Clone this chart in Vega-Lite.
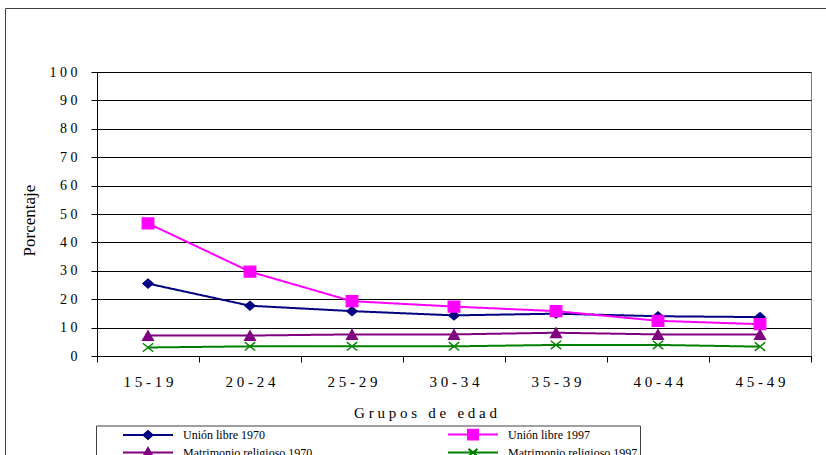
{
  "$schema": "https://vega.github.io/schema/vega-lite/v6.json",
  "width": 714,
  "height": 284,
  "autosize": {"type": "none"},
  "padding": {"left": 97, "top": 72, "right": 15, "bottom": 99},
  "background": "white",
  "config": {
    "font": "Liberation Serif",
    "view": {"stroke": "#808080", "strokeWidth": 1},
    "axis": {
      "labelFont": "Liberation Serif",
      "titleFont": "Liberation Serif",
      "labelColor": "black",
      "titleColor": "black",
      "titleFontWeight": "normal",
      "domainColor": "black",
      "tickColor": "black",
      "tickSize": 6
    },
    "legend": {
      "labelFont": "Liberation Serif",
      "labelColor": "black"
    }
  },
  "data": {
    "values": [
      {"grupo": "15-19", "serie": "Unión libre 1970", "pct": 25.5},
      {"grupo": "20-24", "serie": "Unión libre 1970", "pct": 17.7},
      {"grupo": "25-29", "serie": "Unión libre 1970", "pct": 15.8},
      {"grupo": "30-34", "serie": "Unión libre 1970", "pct": 14.3},
      {"grupo": "35-39", "serie": "Unión libre 1970", "pct": 14.9},
      {"grupo": "40-44", "serie": "Unión libre 1970", "pct": 14.0},
      {"grupo": "45-49", "serie": "Unión libre 1970", "pct": 13.7},
      {"grupo": "15-19", "serie": "Unión libre 1997", "pct": 46.7},
      {"grupo": "20-24", "serie": "Unión libre 1997", "pct": 29.7},
      {"grupo": "25-29", "serie": "Unión libre 1997", "pct": 19.3},
      {"grupo": "30-34", "serie": "Unión libre 1997", "pct": 17.4},
      {"grupo": "35-39", "serie": "Unión libre 1997", "pct": 15.8},
      {"grupo": "40-44", "serie": "Unión libre 1997", "pct": 12.4},
      {"grupo": "45-49", "serie": "Unión libre 1997", "pct": 11.2},
      {"grupo": "15-19", "serie": "Matrimonio religioso 1970", "pct": 7.2},
      {"grupo": "20-24", "serie": "Matrimonio religioso 1970", "pct": 7.2},
      {"grupo": "25-29", "serie": "Matrimonio religioso 1970", "pct": 7.6},
      {"grupo": "30-34", "serie": "Matrimonio religioso 1970", "pct": 7.6},
      {"grupo": "35-39", "serie": "Matrimonio religioso 1970", "pct": 8.2},
      {"grupo": "40-44", "serie": "Matrimonio religioso 1970", "pct": 7.6},
      {"grupo": "45-49", "serie": "Matrimonio religioso 1970", "pct": 7.6},
      {"grupo": "15-19", "serie": "Matrimonio religioso 1997", "pct": 3.0},
      {"grupo": "20-24", "serie": "Matrimonio religioso 1997", "pct": 3.4},
      {"grupo": "25-29", "serie": "Matrimonio religioso 1997", "pct": 3.4},
      {"grupo": "30-34", "serie": "Matrimonio religioso 1997", "pct": 3.4},
      {"grupo": "35-39", "serie": "Matrimonio religioso 1997", "pct": 3.9},
      {"grupo": "40-44", "serie": "Matrimonio religioso 1997", "pct": 3.9},
      {"grupo": "45-49", "serie": "Matrimonio religioso 1997", "pct": 3.3}
    ]
  },
  "encoding": {
    "x": {
      "field": "grupo",
      "type": "nominal",
      "sort": null,
      "scale": {"paddingInner": 0, "paddingOuter": 0},
      "axis": {
        "title": "G r u p o s\u00a0\u00a0\u00a0d e\u00a0\u00a0\u00a0e d a d",
        "titleFontSize": 15,
        "titleX": 328,
        "titleY": 61,
        "titleBaseline": "alphabetic",
        "titleAlign": "center",
        "labelAngle": 0,
        "labelFontSize": 15,
        "labelBaseline": "alphabetic",
        "labelPadding": 24,
        "labelExpr": "join(split(datum.label, ''), ' ')",
        "tickBand": "extent",
        "grid": false
      }
    },
    "y": {
      "field": "pct",
      "type": "quantitative",
      "scale": {"domain": [0, 100], "nice": false},
      "axis": {
        "title": "Porcentaje",
        "titleFontSize": 17,
        "titleAngle": -90,
        "titleX": -68,
        "titleY": 148,
        "titleBaseline": "middle",
        "titleAlign": "center",
        "values": [0, 10, 20, 30, 40, 50, 60, 70, 80, 90, 100],
        "labelFontSize": 14,
        "labelPadding": 14,
        "labelExpr": "join(split(datum.label, ''), ' ')",
        "grid": true,
        "gridColor": "black",
        "gridOpacity": 1
      }
    }
  },
  "layer": [
    {
      "mark": {"type": "line", "strokeWidth": 2},
      "encoding": {
        "color": {
          "field": "serie",
          "type": "nominal",
          "scale": {
            "domain": ["Unión libre 1970", "Unión libre 1997", "Matrimonio religioso 1970", "Matrimonio religioso 1997"],
            "range": ["#000080", "#ff00ff", "#800080", "#008000"]
          },
          "legend": {
            "orient": "none",
            "legendX": -1,
            "legendY": 353.5,
            "direction": "horizontal",
            "columns": 2,
            "title": null,
            "padding": 2,
            "symbolOffset": 43,
            "symbolSize": 144,
            "symbolStrokeWidth": 2,
            "symbolOpacity": 1,
            "labelOffset": 28,
            "labelFontSize": 12,
            "labelLimit": 500,
            "columnPadding": 110,
            "rowPadding": 0,
            "strokeColor": "#404040",
            "fillColor": "white",
            "encode": {
              "symbols": {
                "update": {
                  "shape": {"signal": "datum.value === 'Unión libre 1970' ? 'M-4.17,0L4.17,0M0,-0.67L0.75,0L0,0.67L-0.75,0Z' : datum.value === 'Unión libre 1997' ? 'M-4.17,0L4.17,0M-0.83,-0.8L0.83,-0.8L0.83,0.8L-0.83,0.8Z' : datum.value === 'Matrimonio religioso 1970' ? 'M-4.17,0L4.17,0M0,-0.75L0.83,0.75L-0.83,0.75Z' : 'M-4.17,0L4.17,0M-0.75,-0.6L0.75,0.6M-0.75,0.6L0.75,-0.6'"},
                  "fill": {"signal": "scale('color', datum.value)"},
                  "stroke": {"signal": "scale('color', datum.value)"}
                }
              }
            }
          }
        },
        "strokeDash": {
          "datum": "marco",
          "type": "nominal",
          "scale": {"range": [[1, 0]]},
          "legend": {
            "orient": "none",
            "legendX": -92,
            "legendY": -64,
            "padding": 440,
            "title": null,
            "strokeColor": "#404040",
            "labelExpr": "''",
            "symbolOpacity": 0
          }
        }
      }
    },
    {
      "transform": [{"filter": "datum.serie === 'Unión libre 1970'"}],
      "mark": {"type": "point", "shape": "M0,-0.7L0.8,0L0,0.7L-0.8,0Z", "filled": true, "color": "#000080", "stroke": "#000080", "strokeWidth": 1.2, "size": 169, "opacity": 1}
    },
    {
      "transform": [{"filter": "datum.serie === 'Unión libre 1997'"}],
      "mark": {"type": "point", "shape": "M-0.9,-0.85H0.9V0.85H-0.9Z", "filled": true, "color": "#ff00ff", "stroke": "#ff00ff", "strokeWidth": 1.2, "size": 169, "opacity": 1}
    },
    {
      "transform": [{"filter": "datum.serie === 'Matrimonio religioso 1970'"}],
      "mark": {"type": "point", "shape": "M0,-0.75L0.85,0.75L-0.85,0.75Z", "filled": true, "color": "#800080", "stroke": "#800080", "strokeWidth": 1.2, "size": 169, "opacity": 1}
    },
    {
      "transform": [{"filter": "datum.serie === 'Matrimonio religioso 1997'"}],
      "mark": {"type": "point", "shape": "M-0.8,-0.65L0.8,0.65M-0.8,0.65L0.8,-0.65", "filled": true, "color": "#008000", "stroke": "#008000", "strokeWidth": 1.4, "size": 169, "opacity": 1}
    }
  ]
}
